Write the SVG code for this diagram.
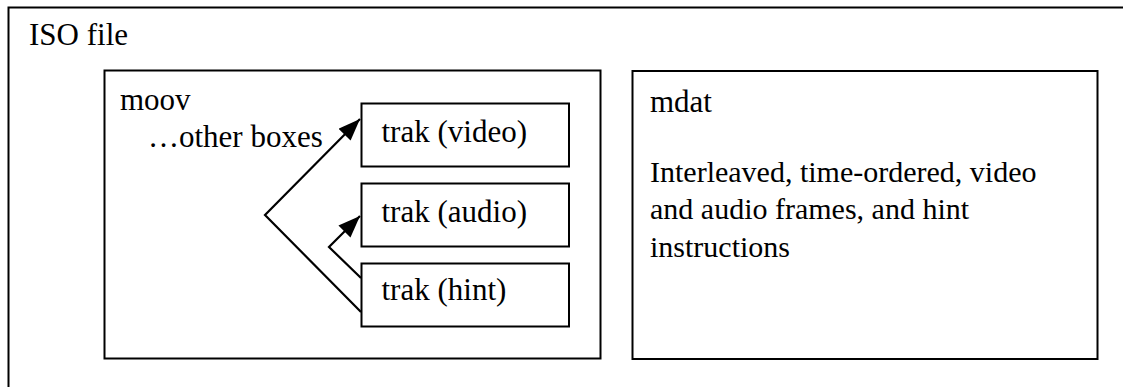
<svg xmlns="http://www.w3.org/2000/svg" width="1123" height="387" viewBox="0 0 1123 387">
<style>
.box{fill:none;stroke:#000;stroke-width:2}
text{font-family:'Liberation Serif','Times New Roman',serif;font-size:31px;fill:#000}
.body{font-size:30px}
.c{fill:none;stroke:#000;stroke-width:2.2}
</style>
<defs>
<marker id="ah" viewBox="0 0 22 17" refX="22" refY="8.5" markerWidth="22" markerHeight="17" markerUnits="userSpaceOnUse" orient="auto">
<path d="M0,0 L22,8.5 L0,17 Z" fill="#000"/>
</marker>
</defs>
<rect width="1123" height="387" fill="#fff"/>
<g id="iso">
<rect class="box" x="8.5" y="7.5" width="1130" height="400"/>
<text x="29" y="45">ISO file</text>
</g>
<g id="moov">
<rect class="box" x="104.5" y="70.5" width="496" height="288"/>
<text x="120" y="110">moov</text>
<text x="148" y="147">…other boxes</text>
</g>
<g id="mdat">
<rect class="box" x="632.5" y="71" width="465" height="288"/>
<text x="650" y="111.5">mdat</text>
<text class="body" x="650" y="181.5">Interleaved, time-ordered, video</text>
<text class="body" x="650" y="219">and audio frames, and hint</text>
<text class="body" x="650" y="256.5">instructions</text>
</g>
<g id="trak-video">
<rect class="box" x="361.5" y="103.5" width="207.5" height="63"/>
<text x="381.5" y="141.5">trak (video)</text>
</g>
<g id="trak-audio">
<rect class="box" x="361.5" y="183.5" width="207.5" height="63"/>
<text x="381.5" y="221.5">trak (audio)</text>
</g>
<g id="trak-hint">
<rect class="box" x="361.5" y="263.5" width="207.5" height="63"/>
<text x="381.5" y="300">trak (hint)</text>
</g>
<g id="connectors">
<polyline class="c" points="361,312 265,215 360,119" marker-end="url(#ah)"/>
<polyline class="c" points="361,278 329,247 360,216" marker-end="url(#ah)"/>
</g>
</svg>
